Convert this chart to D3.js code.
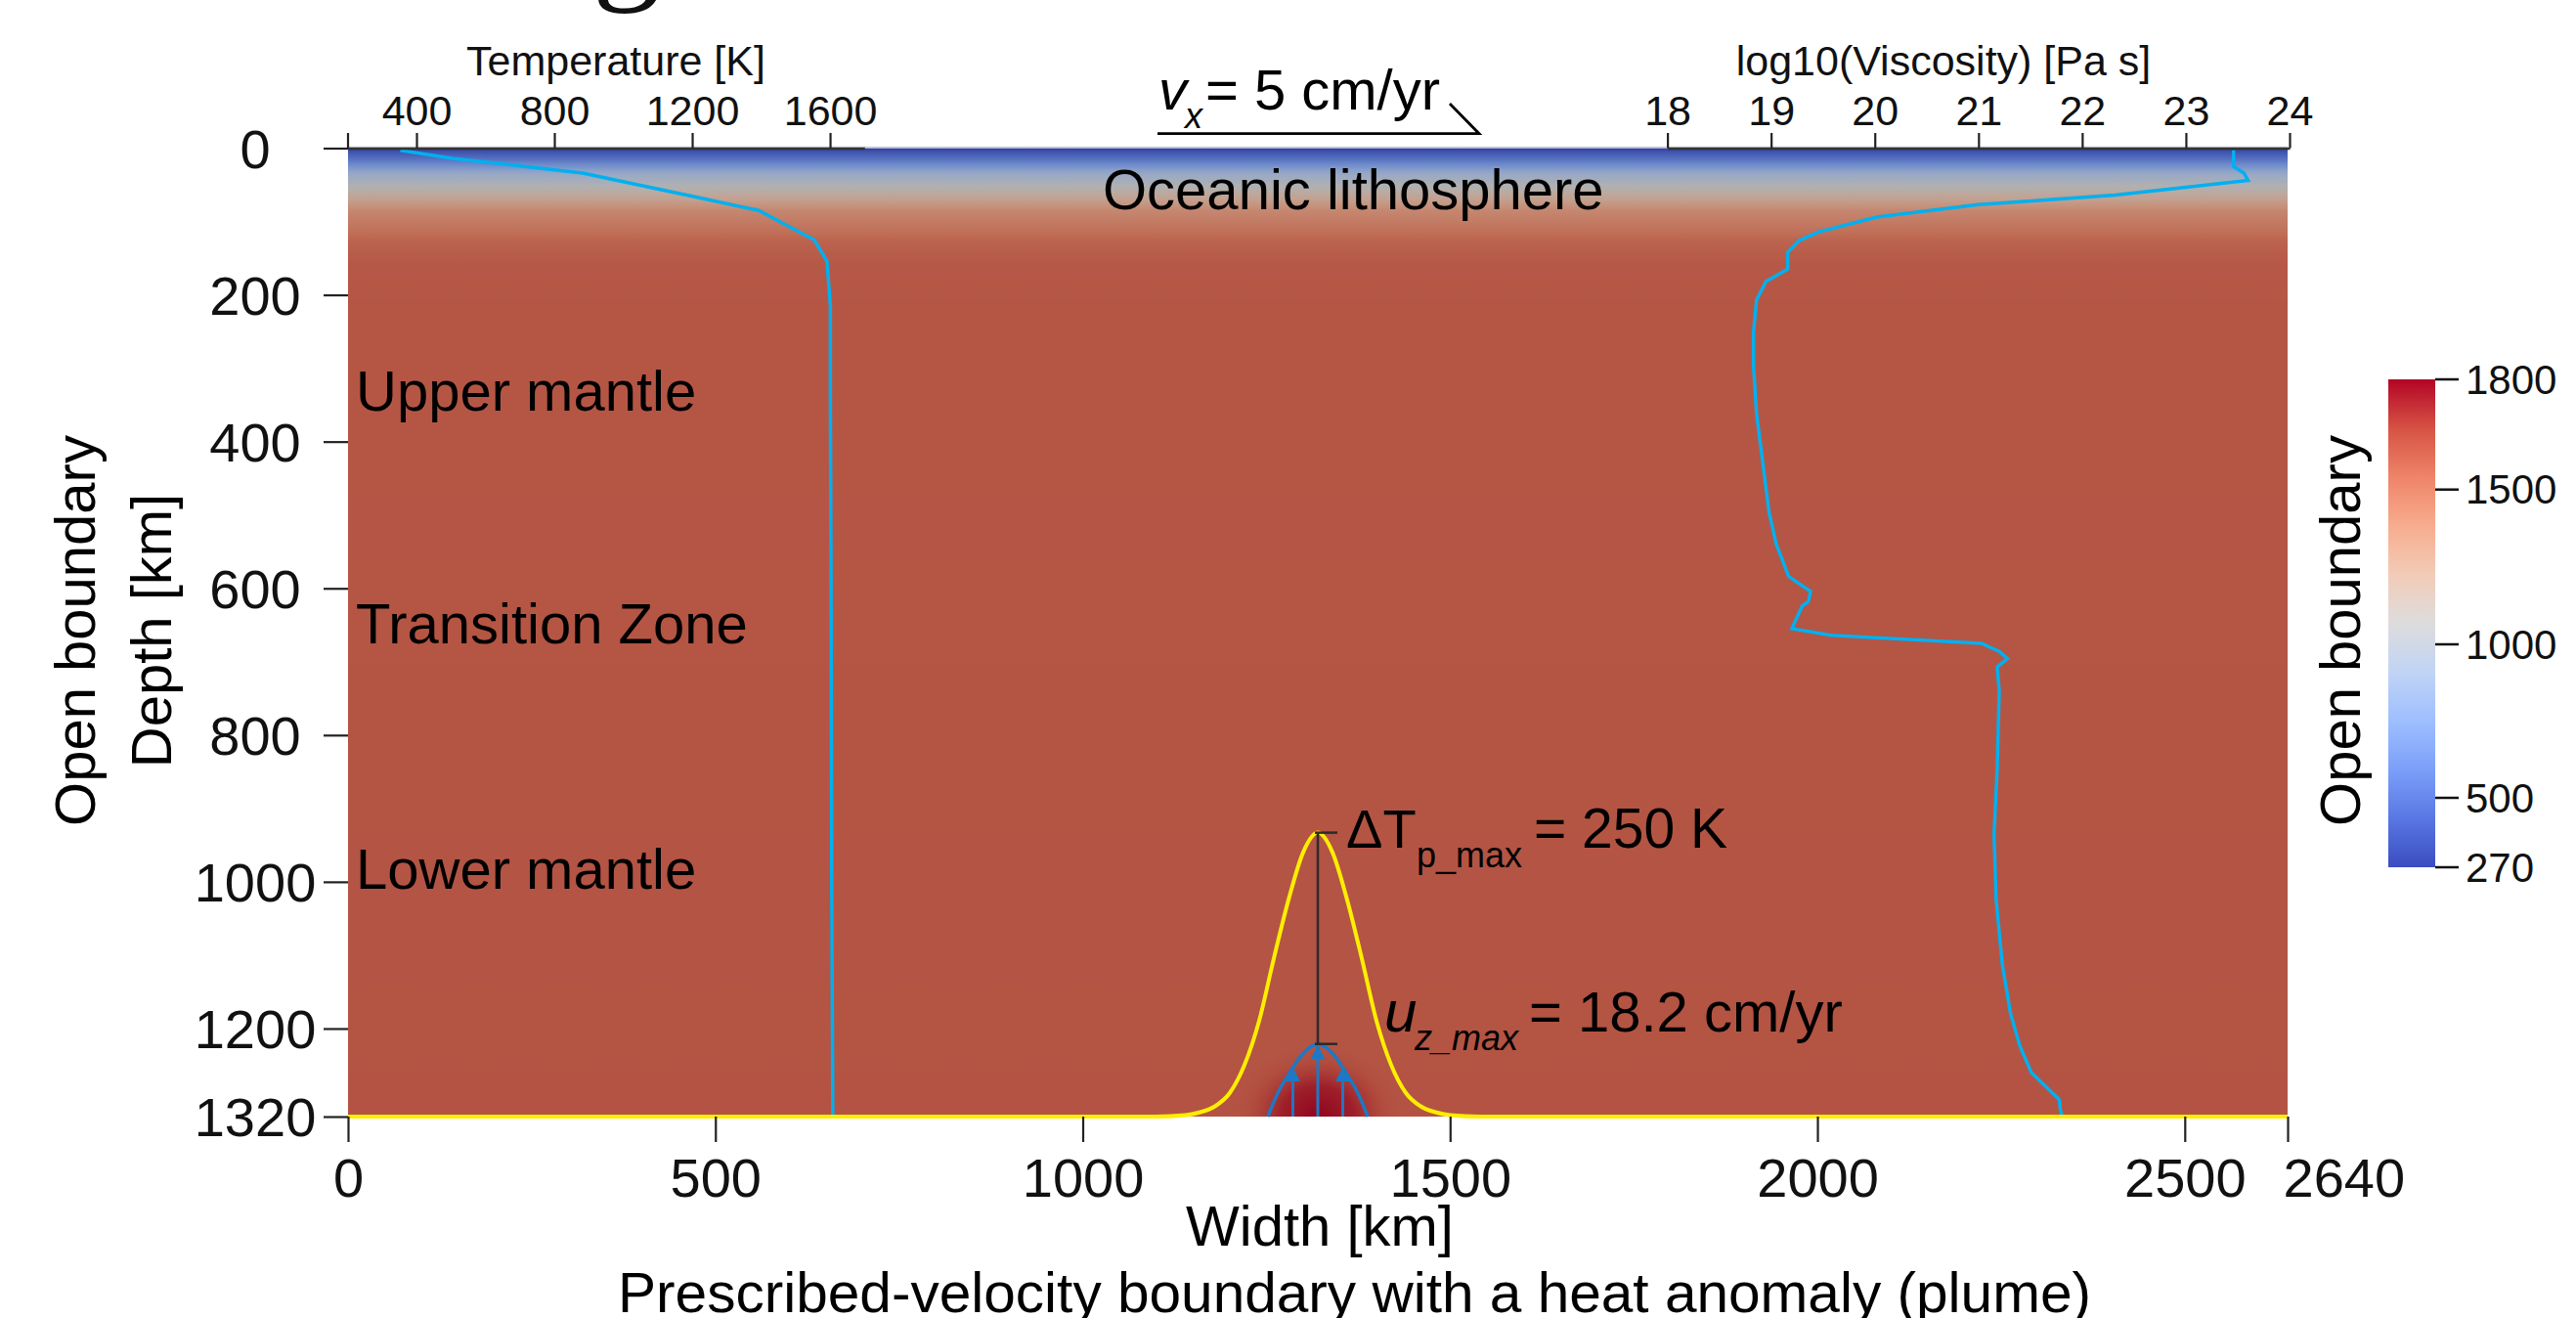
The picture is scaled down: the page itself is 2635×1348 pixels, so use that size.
<!DOCTYPE html>
<html>
<head>
<meta charset="utf-8">
<script src="https://cdn.jsdelivr.net/npm/d3@7"></script>
<style>
  body { margin: 0; background: #fff; }
  svg { display: block; font-family: "Liberation Sans", Arial, sans-serif; }
</style>
</head>
<body>
<svg width="2635" height="1348"></svg>
<script>
// ---- data ----
// temperature profile (left curve)
var tempDepth = [3, 14, 34, 65, 85, 104, 125, 154, 215, 331, 600, 1000, 1320];
var tempK     = [353, 504, 882, 1194, 1393, 1469, 1554, 1591, 1601, 1601, 1603, 1605, 1608];
var surfaceT = 273;

// viscosity profile (right curve), log10(Pa s)
var viscDepth = [3, 25, 34, 44, 64, 77, 94, 114, 126, 142, 165, 182, 207, 251, 296, 362, 429, 496, 540, 584, 604, 618, 624, 655, 664, 675,
                 686, 696, 707, 740, 847, 935, 1024, 1113, 1180, 1224, 1260, 1297, 1311, 1320];
var viscLog   = [23.46, 23.46, 23.56, 23.60, 22.32, 21.0, 20.02, 19.46, 19.27, 19.16, 19.16, 18.95, 18.86, 18.83, 18.83, 18.86, 18.92, 18.98, 19.05, 19.17, 19.38, 19.36, 19.30, 19.20, 19.58, 21.03,
                 21.20, 21.28, 21.18, 21.20, 21.18, 21.15, 21.17, 21.23, 21.31, 21.40, 21.51, 21.78, 21.79, 21.81];

// heat anomaly at the bottom boundary (yellow curve)
var plumeX     = [0, 1100, 1140, 1160, 1180, 1200, 1220, 1240, 1260, 1280, 1300, 1320, 1340, 1360, 1380, 1400, 1420, 1440, 1460, 1480, 1500, 1540, 2640];
var plumeDepth = [1320, 1320, 1318, 1314, 1306, 1288, 1250, 1190, 1105, 1025, 960, 933, 960, 1025, 1105, 1190, 1250, 1288, 1306, 1314, 1318, 1320, 1320];

// inflow velocity profile (blue curve) and arrows
var velX     = [1252, 1260, 1269, 1280, 1286, 1300, 1310, 1320, 1330, 1340, 1354, 1360, 1371, 1380, 1388];
var velDepth = [1320, 1300, 1281, 1263, 1253, 1234, 1225, 1221, 1225, 1234, 1253, 1263, 1281, 1300, 1320];
var arrowX   = [1286, 1320, 1354];
var arrowTop = [1254, 1224, 1254];
var plumeCenter = 1320, plumeDT = 250, mantleT = 1601;

// ticks
var widthTicks = [0, 500, 1000, 1500, 2000, 2500, 2640];
var depthTicks = [0, 200, 400, 600, 800, 1000, 1200, 1320];
var tempTicks  = [200, 400, 800, 1200, 1600];
var viscTicks  = [18, 19, 20, 21, 22, 23, 24];
var cbTicks    = [270, 500, 1000, 1500, 1800];
var cbTickPos  = [887, 816, 659, 500.7, 388];   // colour bar is not linear
var coolwarm = ['#3b4cc0', '#5977e3', '#7b9ff9', '#9ebeff', '#c0d4f5', '#dddcdc',
                '#f2cbb7', '#f7ac8e', '#ee8468', '#d65244', '#b40426'];

var layers = [
  {name: 'Upper mantle', y: 420},
  {name: 'Transition Zone', y: 658},
  {name: 'Lower mantle', y: 909}
];

// ---- scales ----
var svg = d3.select('svg');
var x = d3.scaleLinear().domain([0, 2640]).range([356, 2340]);
var y = d3.scaleLinear().domain([0, 1320]).range([151.5, 1142]);
var xT = d3.scaleLinear().domain([200, 1700]).range([355.5, 884.3]);
var xV = d3.scaleLinear().domain([18, 24]).range([1705.6, 2342]);
var cbY = d3.scaleLinear().domain(cbTicks).range(cbTickPos).clamp(true);
var cool = d3.piecewise(d3.interpolateRgb, coolwarm);
var tOfDepth = d3.scaleLinear().domain([0].concat(tempDepth)).range([surfaceT].concat(tempK));

function cbPos(t) { return (887 - cbY(t)) / (887 - 388); }
function fieldColor(t) { return d3.rgb(cool(cbPos(t))).darker(0.62).formatRgb(); }

var defs = svg.append('defs');

// field gradient (vertical)
var fg = defs.append('linearGradient').attr('id', 'field')
  .attr('x1', 0).attr('y1', 0).attr('x2', 0).attr('y2', 1);
d3.range(0, 1321, 5).forEach(function(d) {
  fg.append('stop').attr('offset', d / 1320).attr('stop-color', fieldColor(tOfDepth(d)));
});

// plume glow
var pg = defs.append('radialGradient').attr('id', 'plume');
pg.append('stop').attr('offset', 0).attr('stop-color', fieldColor(mantleT + plumeDT)).attr('stop-opacity', 1);
pg.append('stop').attr('offset', 0.4).attr('stop-color', fieldColor(mantleT + plumeDT * 0.6)).attr('stop-opacity', 0.9);
pg.append('stop').attr('offset', 0.75).attr('stop-color', fieldColor(mantleT + plumeDT * 0.2)).attr('stop-opacity', 0.4);
pg.append('stop').attr('offset', 1).attr('stop-color', fieldColor(mantleT)).attr('stop-opacity', 0);

// colour bar gradient
var cg = defs.append('linearGradient').attr('id', 'cbar')
  .attr('x1', 0).attr('y1', 1).attr('x2', 0).attr('y2', 0);
d3.range(0, 1.0001, 0.05).forEach(function(p) {
  cg.append('stop').attr('offset', p).attr('stop-color', cool(p));
});

defs.append('marker').attr('id', 'head')
  .attr('markerUnits', 'userSpaceOnUse')
  .attr('viewBox', '0 0 10 10').attr('refX', 9).attr('refY', 5)
  .attr('markerWidth', 17).attr('markerHeight', 15).attr('orient', 'auto')
  .append('path').attr('d', 'M0,0L10,5L0,10z').attr('fill', '#1f78c4');

defs.append('clipPath').attr('id', 'clipBox')
  .append('rect').attr('x', 356).attr('y', 151.5).attr('width', 1984).attr('height', 990.5);

// ---- field ----
svg.append('rect')
  .attr('x', x(0)).attr('y', y(0))
  .attr('width', x(2640) - x(0)).attr('height', y(1320) - y(0))
  .attr('fill', 'url(#field)');

svg.append('ellipse')
  .attr('clip-path', 'url(#clipBox)')
  .attr('cx', x(plumeCenter)).attr('cy', y(1320))
  .attr('rx', x(plumeCenter + 125) - x(plumeCenter))
  .attr('ry', y(1320) - y(1215))
  .attr('fill', 'url(#plume)');

svg.append('line')
  .attr('x1', x(0)).attr('x2', x(2640)).attr('y1', y(0) - 1).attr('y2', y(0) - 1)
  .attr('stroke', '#cfcfd6').attr('stroke-width', 1.5);

// ---- profiles ----
var profileLine = d3.line();
svg.append('path')
  .attr('d', profileLine(tempDepth.map(function(d, i) { return [xT(tempK[i]), y(d)]; })))
  .attr('fill', 'none').attr('stroke', '#00b0f0').attr('stroke-width', 3.5);

svg.append('path')
  .attr('d', profileLine(viscDepth.map(function(d, i) { return [xV(viscLog[i]), y(d)]; })))
  .attr('fill', 'none').attr('stroke', '#00b0f0').attr('stroke-width', 3.5);

// ---- plume annotation ----
svg.append('path')
  .attr('d', d3.line().curve(d3.curveMonotoneX)(plumeX.map(function(d, i) { return [x(d), y(plumeDepth[i])]; })))
  .attr('fill', 'none').attr('stroke', '#ffee00').attr('stroke-width', 4);

svg.append('path')
  .attr('d', d3.line().curve(d3.curveMonotoneX)(velX.map(function(d, i) { return [x(d), y(velDepth[i])]; })))
  .attr('fill', 'none').attr('stroke', '#1f78c4').attr('stroke-width', 3.5);

svg.selectAll('line.arrow').data(arrowX).enter().append('line')
  .attr('class', 'arrow')
  .attr('x1', function(d) { return x(d); }).attr('x2', function(d) { return x(d); })
  .attr('y1', y(1320)).attr('y2', function(d, i) { return y(arrowTop[i]); })
  .attr('stroke', '#1f78c4').attr('stroke-width', 3)
  .attr('marker-end', 'url(#head)');

var peakY = y(d3.min(plumeDepth)), velY = y(d3.min(velDepth));
var dim = svg.append('g').attr('stroke', '#2b2b2b').attr('stroke-width', 2.5);
dim.append('line').attr('x1', x(plumeCenter)).attr('x2', x(plumeCenter)).attr('y1', peakY).attr('y2', velY);
dim.append('line').attr('x1', x(plumeCenter) - 3).attr('x2', x(plumeCenter) + 20).attr('y1', peakY).attr('y2', peakY);
dim.append('line').attr('x1', x(plumeCenter) - 3).attr('x2', x(plumeCenter) + 20).attr('y1', velY).attr('y2', velY);

var dT = svg.append('text').attr('y', 866.7).attr('fill', '#000');
dT.append('tspan').attr('x', 1377).attr('font-size', 56).text('\u0394T');
dT.append('tspan').attr('x', 1449).attr('y', 887).attr('font-size', 36).text('p_max');
dT.append('tspan').attr('x', 1569).attr('y', 866.7).attr('font-size', 57).text('= ' + plumeDT + ' K');

var uz = svg.append('text').attr('y', 1055).attr('fill', '#000');
uz.append('tspan').attr('x', 1416).attr('font-size', 60).attr('font-style', 'italic').text('u');
uz.append('tspan').attr('x', 1447).attr('y', 1074).attr('font-size', 36).attr('font-style', 'italic').text('z_max');
uz.append('tspan').attr('x', 1564).attr('y', 1055).attr('font-size', 58).text('= 18.2 cm/yr');

// ---- layer labels ----
svg.append('text').attr('x', 1128).attr('y', 214).attr('font-size', 58).text('Oceanic lithosphere');
svg.selectAll('text.layer').data(layers).enter().append('text')
  .attr('class', 'layer')
  .attr('x', 364).attr('y', function(d) { return d.y; })
  .attr('font-size', 58).text(function(d) { return d.name; });

// ---- axes ----
function styleAxis(g, size) {
  g.selectAll('.tick line').attr('stroke', '#222').attr('stroke-width', 2.2);
  g.selectAll('.tick text').attr('fill', '#111').attr('font-size', size)
    .attr('font-family', '"Liberation Sans", Arial, sans-serif');
}

var gT = svg.append('g').attr('transform', 'translate(0,' + y(0) + ')')
  .call(d3.axisTop(xT).tickValues(tempTicks).tickSize(15.5).tickSizeOuter(0).tickPadding(8)
    .tickFormat(function(d) { return d === 200 ? '' : d; }));
styleAxis(gT, 43);
gT.select('.domain').attr('stroke', '#333').attr('stroke-width', 2.5);

var gV = svg.append('g').attr('transform', 'translate(0,' + y(0) + ')')
  .call(d3.axisTop(xV).tickValues(viscTicks).tickSize(15.5).tickSizeOuter(0).tickPadding(8)
    .tickFormat(d3.format('d')));
styleAxis(gV, 43);
gV.select('.domain').attr('stroke', '#333').attr('stroke-width', 2.5);

var gY = svg.append('g').attr('transform', 'translate(' + x(0) + ',0)')
  .call(d3.axisLeft(y).tickValues(depthTicks).tickSize(25).tickFormat(d3.format('d')));
styleAxis(gY, 56);
gY.select('.domain').remove();
gY.selectAll('.tick text').attr('text-anchor', 'middle').attr('x', -95).attr('dy', '0.35em');

var gX = svg.append('g').attr('transform', 'translate(0,' + y(1320) + ')')
  .call(d3.axisBottom(x).tickValues(widthTicks).tickSize(26).tickPadding(16).tickFormat(d3.format('d')));
styleAxis(gX, 56);
gX.select('.domain').remove();
gX.selectAll('.tick text').filter(function(d) { return d === 2640; })
  .attr('text-anchor', 'start').attr('x', -5);

// axis titles
svg.append('text').attr('x', 630).attr('y', 77).attr('text-anchor', 'middle')
  .attr('font-size', 43).attr('fill', '#111').text('Temperature [K]');
svg.append('text').attr('x', 1988).attr('y', 77).attr('text-anchor', 'middle')
  .attr('font-size', 43).attr('fill', '#111').text('log10(Viscosity) [Pa s]');
svg.append('text').attr('x', 1350).attr('y', 1274).attr('text-anchor', 'middle')
  .attr('font-size', 58).text('Width [km]');
svg.append('text').attr('x', 632).attr('y', 1342)
  .attr('font-size', 58).attr('textLength', 1507).attr('lengthAdjust', 'spacingAndGlyphs')
  .text('Prescribed-velocity boundary with a heat anomaly (plume)');

svg.append('text').attr('transform', 'translate(97,645) rotate(-90)').attr('text-anchor', 'middle')
  .attr('font-size', 58).text('Open boundary');
svg.append('text').attr('transform', 'translate(175,645) rotate(-90)').attr('text-anchor', 'middle')
  .attr('font-size', 58).text('Depth [km]');
svg.append('text').attr('transform', 'translate(2414,645) rotate(-90)').attr('text-anchor', 'middle')
  .attr('font-size', 58).text('Open boundary');

// top boundary: prescribed velocity
var vx = svg.append('text').attr('y', 112);
vx.append('tspan').attr('x', 1185).attr('font-size', 58).attr('font-style', 'italic').text('v');
vx.append('tspan').attr('x', 1212).attr('y', 131).attr('font-size', 36).attr('font-style', 'italic').text('x');
svg.append('text').attr('x', 1233).attr('y', 112).attr('font-size', 58)
  .attr('textLength', 240).attr('lengthAdjust', 'spacingAndGlyphs').text('= 5 cm/yr');
svg.append('path')
  .attr('d', 'M1184,136.7H1513L1483,106')
  .attr('fill', 'none').attr('stroke', '#000').attr('stroke-width', 2.8);

// cropped title fragment at the top edge
svg.append('text').attr('x', 606).attr('y', -16).attr('font-size', 140)
  .attr('font-family', '"Liberation Serif", "Times New Roman", serif').attr('fill', '#111').text('g');

// ---- colour bar ----
svg.append('rect').attr('x', 2443).attr('y', cbY(1800)).attr('width', 48)
  .attr('height', cbY(270) - cbY(1800)).attr('fill', 'url(#cbar)');
var cb = svg.selectAll('g.cbt').data(cbTicks).enter().append('g').attr('class', 'cbt')
  .attr('transform', function(d) { return 'translate(0,' + cbY(d) + ')'; });
cb.append('line').attr('x1', 2491).attr('x2', 2515).attr('stroke', '#111').attr('stroke-width', 2.5);
cb.append('text').attr('x', 2522).attr('dy', '0.35em').attr('font-size', 42).attr('fill', '#111')
  .text(function(d) { return d; });
</script>
</body>
</html>
